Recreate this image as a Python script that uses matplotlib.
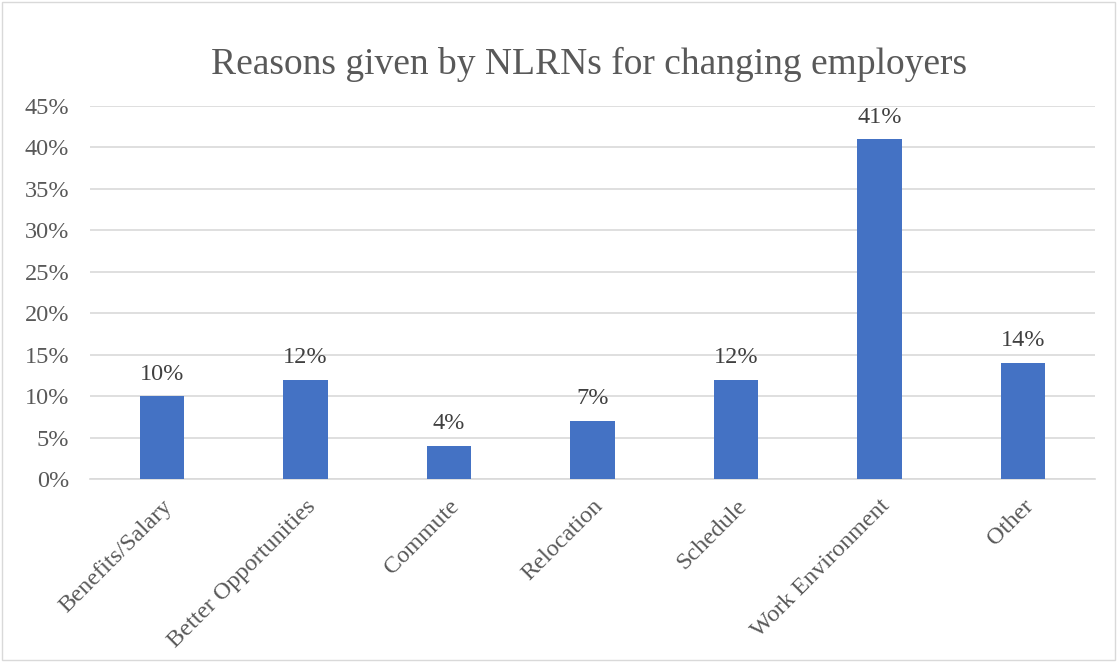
import matplotlib
matplotlib.use('Agg')
import matplotlib.pyplot as plt
from matplotlib.patches import Rectangle

categories = ['Benefits/Salary', 'Better Opportunities', 'Commute', 'Relocation',
              'Schedule', 'Work Environment', 'Other']
values = [0.10, 0.12, 0.04, 0.07, 0.12, 0.41, 0.14]
yticks = [0, 0.05, 0.10, 0.15, 0.20, 0.25, 0.30, 0.35, 0.40, 0.45]

plt.rcParams['font.family'] = ['Liberation Serif', 'DejaVu Serif']

fig = plt.figure(figsize=(11.17, 6.62), dpi=100)
ax = fig.add_axes([0.0806, 0.2764, 0.8994, 0.5635])

x = range(len(categories))
ax.bar(x, values, width=0.31, color='#4472C4', zorder=3)
for i, v in zip(x, values):
    ax.text(i, v + 0.014, f'{v*100:.0f}%', ha='center', va='bottom',
            fontsize=17.5, color='#404040')

ax.set_xlim(-0.5, len(categories) - 0.5)
ax.set_ylim(0, 0.45)
ax.set_yticks(yticks)
ax.set_yticklabels([f'{t*100:.0f}%' for t in yticks], fontsize=17.5, color='#595959')
ax.set_xticks(list(x))
ax.set_xticklabels(categories, rotation=45, ha='right', rotation_mode='anchor',
                   fontsize=17.5, color='#595959')
ax.tick_params(axis='y', length=0, pad=15)
ax.tick_params(axis='x', length=0, pad=12)
ax.grid(axis='y', color='#D9D9D9', linewidth=1.2, zorder=0)
for s in ['top', 'right', 'left']:
    ax.spines[s].set_visible(False)
ax.spines['bottom'].set_color('#D9D9D9')
ax.spines['bottom'].set_linewidth(1.2)

fig.text(0.527, 0.902, 'Reasons given by NLRNs for changing employers',
         ha='center', va='center', fontsize=27, color='#595959')

fig.patches.append(Rectangle((0.002, 0.003), 0.996, 0.994, transform=fig.transFigure,
                             fill=False, edgecolor='#D9D9D9', linewidth=1))

fig.savefig('out.png', dpi=100)
